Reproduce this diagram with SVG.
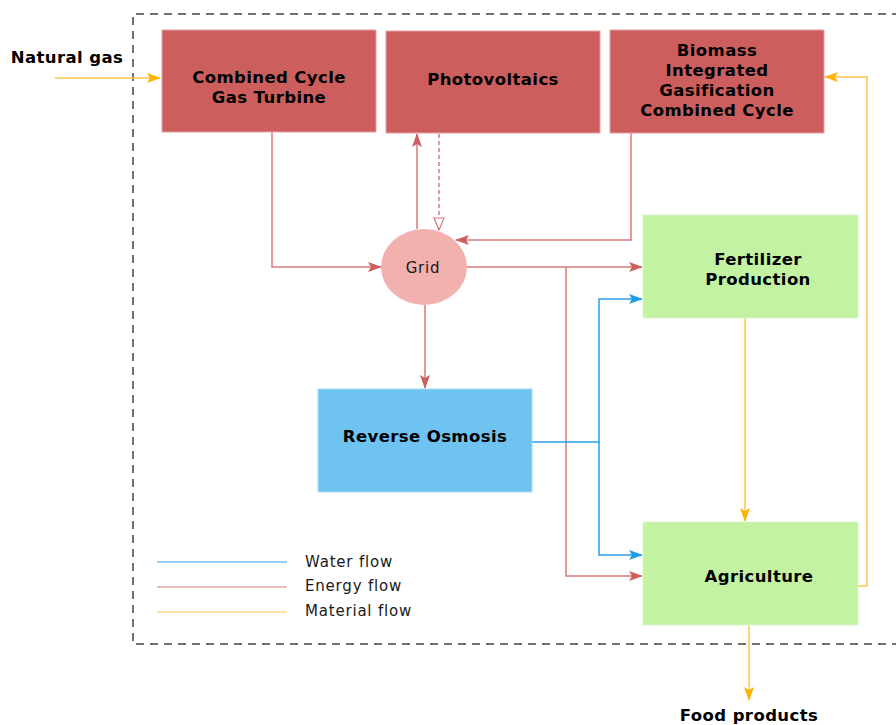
<svg xmlns="http://www.w3.org/2000/svg" width="896" height="725" viewBox="0 0 896 725">
<defs>
<style>
.b{font-family:"DejaVu Sans","Verdana",sans-serif;font-weight:bold;font-size:16.5px;letter-spacing:0.4px;fill:#000;text-anchor:middle}
.n{font-family:"DejaVu Sans","Verdana",sans-serif;font-size:15px;letter-spacing:0.8px;fill:#1a1a1a}
.red{fill:#CC5F5E;stroke:#E8A0A0;stroke-width:1}
.grn{fill:#C3F2A2;stroke:#DDF5CC;stroke-width:1}
.blu{fill:#6EC3F0;stroke:#A8DBF5;stroke-width:1}
.e{fill:none;stroke:#D97A7A;stroke-width:1.5}
.w{fill:none;stroke:#2AA0E8;stroke-width:1.5}
.m{fill:none;stroke:#FFC44D;stroke-width:1.5}
</style>
<marker id="ae" markerWidth="14" markerHeight="10" refX="13" refY="5" orient="auto" markerUnits="userSpaceOnUse"><path d="M0,0 L14,5 L0,10 L3,5 z" fill="#CC5F5E"/></marker>
<marker id="aw" markerWidth="14" markerHeight="10" refX="13" refY="5" orient="auto" markerUnits="userSpaceOnUse"><path d="M0,0 L14,5 L0,10 L3,5 z" fill="#1E9BE8"/></marker>
<marker id="am" markerWidth="14" markerHeight="10" refX="13" refY="5" orient="auto" markerUnits="userSpaceOnUse"><path d="M0,0 L14,5 L0,10 L3,5 z" fill="#FFB300"/></marker>
<marker id="ao" markerWidth="14" markerHeight="12" refX="13" refY="6" orient="auto" markerUnits="userSpaceOnUse"><path d="M1,1 L13,6 L1,11 z" fill="#fff" stroke="#D97A7A" stroke-width="1.2"/></marker>
</defs>
<rect width="896" height="725" fill="#fff"/>
<g id="boundary" fill="none" stroke="#444" stroke-width="1.5" stroke-dasharray="8,6">
<path d="M900,14 H133 V644 H900"/>
</g>
<g id="connectors">
<path class="m" d="M55,78 H160" marker-end="url(#am)"/>
<path class="e" d="M272,132 V267 H381" marker-end="url(#ae)"/>
<path class="e" d="M417,229 V134" marker-end="url(#ae)"/>
<path class="e" d="M439,134 V230" stroke-dasharray="4,3" marker-end="url(#ao)"/>
<path class="e" d="M631,133 V240 H456" marker-end="url(#ae)"/>
<path class="e" d="M467,267 H642" marker-end="url(#ae)"/>
<path class="e" d="M566,267 V576 H642" marker-end="url(#ae)"/>
<path class="e" d="M425,305 V388" marker-end="url(#ae)"/>
<path class="w" d="M532,442 H599 V299 H642" marker-end="url(#aw)"/>
<path class="w" d="M599,442 V555 H642" marker-end="url(#aw)"/>
<path class="m" d="M745,318 V521" marker-end="url(#am)"/>
<path class="m" d="M858,586 H867 V77 H825" marker-end="url(#am)"/>
<path class="m" d="M749,625 V700" marker-end="url(#am)"/>
</g>
<g id="natural-gas"><text class="b" x="67" y="63">Natural gas</text></g>
<g id="ccgt"><rect class="red" x="162" y="30" width="214" height="102"/>
<text class="b" x="269" y="83">Combined Cycle</text><text class="b" x="269" y="103">Gas Turbine</text></g>
<g id="pv"><rect class="red" x="386" y="31" width="214" height="102"/>
<text class="b" x="493" y="85">Photovoltaics</text></g>
<g id="bigcc"><rect class="red" x="610" y="30" width="214" height="103"/>
<text class="b" x="717" y="56">Biomass</text><text class="b" x="717" y="76">Integrated</text><text class="b" x="717" y="96">Gasification</text><text class="b" x="717" y="116">Combined Cycle</text></g>
<g id="grid"><ellipse cx="424" cy="267" rx="43" ry="38" fill="#F2B0AF"/>
<text class="n" x="423" y="273" text-anchor="middle">Grid</text></g>
<g id="fertilizer"><rect class="grn" x="643" y="215" width="215" height="103"/>
<text class="b" x="758" y="265">Fertilizer</text><text class="b" x="758" y="285">Production</text></g>
<g id="ro"><rect class="blu" x="318" y="389" width="214" height="103"/>
<text class="b" x="425" y="442">Reverse Osmosis</text></g>
<g id="agriculture"><rect class="grn" x="643" y="522" width="215" height="103"/>
<text class="b" x="759" y="582">Agriculture</text></g>
<g id="food"><text class="b" x="749" y="721">Food products</text></g>
<g id="legend">
<line x1="157" y1="562" x2="287" y2="562" stroke="#2AA0E8" stroke-width="1"/>
<line x1="157" y1="587" x2="287" y2="587" stroke="#D97A7A" stroke-width="1"/>
<line x1="157" y1="612" x2="287" y2="612" stroke="#FFC44D" stroke-width="1"/>
<text class="n" x="305" y="567">Water flow</text>
<text class="n" x="305" y="591">Energy flow</text>
<text class="n" x="305" y="616">Material flow</text>
</g>
</svg>
